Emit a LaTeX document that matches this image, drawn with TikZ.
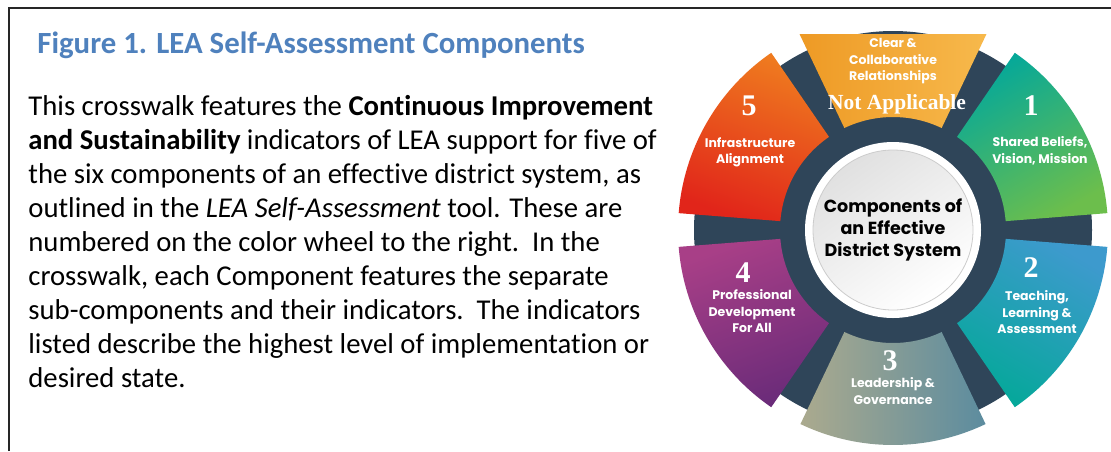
\documentclass[tikz,border=0pt]{standalone}
\usepackage{fontspec}
\setmainfont[Ligatures=NoCommon]{Carlito}
\newfontfamily\wheelfont{Poppins}
\newfontfamily\numfont{Liberation Serif}
\usepackage{tikz}
\definecolor{titleblue}{HTML}{4F81BD}
\definecolor{ringnavy}{HTML}{2F4559}
\definecolor{orangeA}{HTML}{EE9A25}
\definecolor{orangeB}{HTML}{F7B94C}
\definecolor{tealA}{HTML}{05A899}
\definecolor{greenB}{HTML}{6CBE4C}
\definecolor{blueA}{HTML}{3D9ACD}
\definecolor{tealB}{HTML}{05A89A}
\definecolor{greyA}{HTML}{ABAA8E}
\definecolor{greyB}{HTML}{5C8C9F}
\definecolor{purpleA}{HTML}{A83F87}
\definecolor{purpleB}{HTML}{6A2B79}
\definecolor{redA}{HTML}{EF7B1F}
\definecolor{redB}{HTML}{E1251A}
\tikzset{every path/.style={thick}}
\tikzset{
  bodyline/.style={anchor=base west, inner sep=0pt, font=\fontsize{28.7}{34}\selectfont},
  seglabel/.style={text=white, align=center, inner sep=0pt, font=\wheelfont\bfseries\fontsize{12.5}{16.5}\selectfont},
  segnum/.style={anchor=base, text=white, inner sep=0pt, font=\numfont\bfseries\fontsize{30}{30}\selectfont},
  hublabel/.style={align=center, inner sep=0pt, font=\wheelfont\bfseries\fontsize{17.5}{22}\selectfont}
}

\begin{document}
\begin{tikzpicture}[x=1pt,y=1pt]
\useasboundingbox (0,0) rectangle (1111,-451);
\fill[white] (0,0) rectangle (1111,-451);
% frame
\draw[line width=1.8,black!85] (9,-451) -- (9,-8) -- (1111,-8);
% title and text
\node[anchor=base west, inner sep=0pt, text=titleblue, font=\bfseries\fontsize{30.8}{34}\selectfont] (title) at (37,-53) {Figure 1. LEA Self-Assessment Components};
\node[bodyline] (l1) at (28,-115) {This crosswalk features the \textbf{Continuous Improvement}};
\node[bodyline] (l2) at (28,-149) {\textbf{and Sustainability} indicators of LEA support for five of};
\node[bodyline] (l3) at (28,-183) {the six components of an effective district system, as};
\node[bodyline] (l4) at (28,-217) {outlined in the \textit{LEA Self-Assessment} tool. These are};
\node[bodyline] (l5) at (28,-251) {numbered on the color wheel to the right.\ \ In the};
\node[bodyline] (l6) at (28,-285) {crosswalk, each Component features the separate};
\node[bodyline] (l7) at (28,-319) {sub-components and their indicators.\ \ The indicators};
\node[bodyline] (l8) at (28,-353) {listed describe the highest level of implementation or};
\node[bodyline] (l9) at (28,-387) {desired state.};
% wheel
\begin{scope}[shift={(893,-230)}]
\fill[ringnavy] (0,0) circle (199);
%\draw[red] (0,0) circle (215);
\shade[left color=orangeA, right color=orangeB] (64.5:113) -- (64.5:217) -- (115.5:217) -- (115.5:113) arc[start angle=115.5, end angle=64.5, radius=113] -- cycle;
\foreach \a/\ca/\cb/\s in {30/tealA/greenB/30, -30/blueA/tealB/-30, -90/greyA/greyB/90, -150/purpleA/purpleB/20, 150/redA/redB/-20}{
  \shade[top color=\ca, bottom color=\cb, shading angle=\s] (\a-25.5:113) -- (\a-25.5:215) arc[start angle=\a-25.5, end angle=\a+25.5, radius=215] -- (\a+25.5:113) arc[start angle=\a+25.5, end angle=\a-25.5, radius=113] -- cycle;
}
\fill[white] (0,0) circle (88);
\shade[top color=black!12, bottom color=white, shading angle=35] (0,0) circle (80);
\draw[black!20, line width=0.8] (0,0) circle (80);
\end{scope}
% segment texts
\node[seglabel] (clear) at (893,-61.5) {Clear \&\\Collaborative\\Relationships};
\node[segnum, font=\numfont\bfseries\fontsize{21.5}{21.5}\selectfont] (na) at (897,-109) {Not Applicable};
\node[segnum] (n1) at (1031,-115) {1};
\node[seglabel] (shared) at (1040,-151) {Shared Beliefs,\\Vision, Mission};
\node[segnum] (n2) at (1031,-277) {2};
\node[seglabel] (teach) at (1037,-312.5) {Teaching,\\Learning \&\\Assessment};
\node[segnum] (n3) at (890,-370) {3};
\node[seglabel] (lead) at (893,-391) {Leadership \&\\Governance};
\node[segnum] (n4) at (743,-282) {4};
\node[seglabel] (prof) at (752,-311.5) {Professional\\Development\\For All};
\node[segnum] (n5) at (749,-115) {5};
\node[seglabel] (infra) at (750,-152.5) {Infrastructure\\Alignment};
\node[hublabel] (hub) at (893,-230) {Components of\\an Effective\\District System};
\end{tikzpicture}
\end{document}
